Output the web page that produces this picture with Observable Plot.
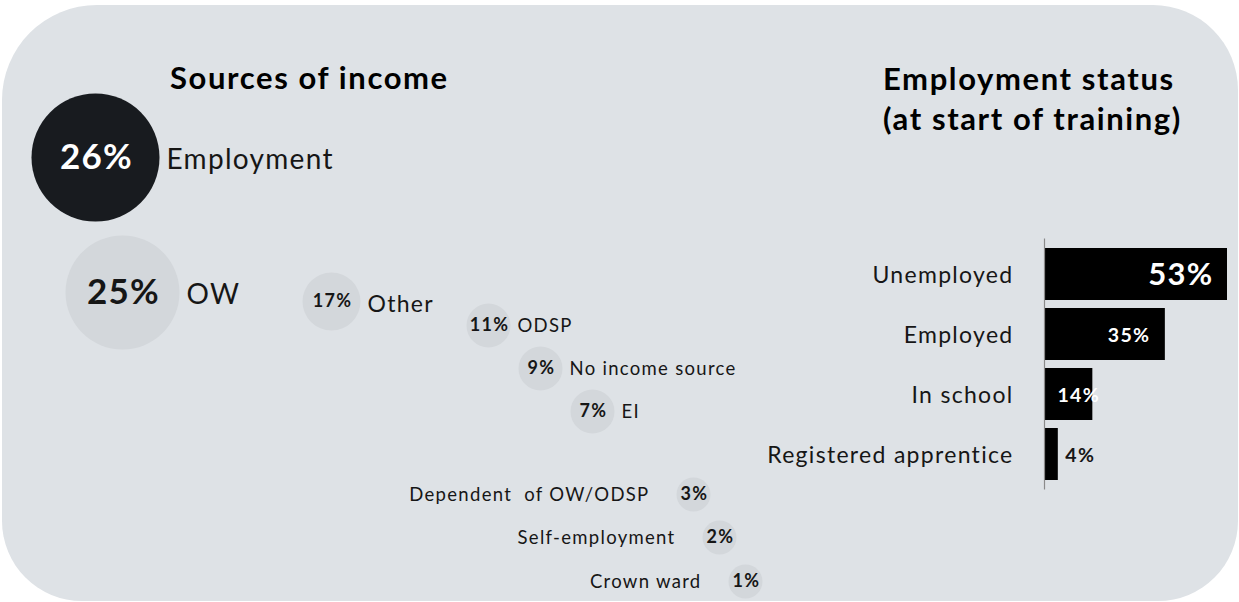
<!DOCTYPE html>
<html>
<head>
<meta charset="utf-8">
<script src="https://cdn.jsdelivr.net/npm/d3@7"></script>
<script src="https://cdn.jsdelivr.net/npm/@observablehq/plot@0.6"></script>
<style>
html, body { margin: 0; padding: 0; background: #ffffff; }
#frame { position: relative; width: 1239px; height: 602px; overflow: hidden; font-family: Lato, "Open Sans", sans-serif; }
#bg { position: absolute; left: 2px; top: 5px; width: 1236px; height: 596px; background: #dee2e6; border-radius: 95px 85px 80px 80px; }
.title { position: absolute; font-weight: 700; font-size: 31px; color: #000; line-height: 40px; white-space: nowrap; letter-spacing: 1.6px; }
#t1 { left: 170px; top: 57px; }
#t2 { left: 883px; top: 58px; }
.layer { position: absolute; left: 0; top: 0; }
#bubbles text, #bars text { letter-spacing: 1.3px; }
</style>
</head>
<body>
<div id="frame">
  <div id="bg"></div>
  <div class="title" id="t1">Sources of income</div>
  <div class="title" id="t2">Employment status<br>(at start of training)</div>
  <div class="layer" id="bubbles"></div>
  <div class="layer" id="bars"></div>
</div>
<script>
// ---- data ----
const incomeSources = ["Employment", "OW", "Other", "ODSP", "No income source", "EI", "Dependent  of OW/ODSP", "Self-employment", "Crown ward"];
const incomeShares = [26, 25, 17, 11, 9, 7, 3, 2, 1];
const statusCategories = ["Unemployed", "Employed", "In school", "Registered apprentice"];
const statusShares = [53, 35, 14, 4];

// ---- tables built from the data ----
const incomeRows = incomeSources.map((name, i) => ({ name, share: incomeShares[i], rank: i, label: incomeShares[i] + "%" }));
const statusRows = statusCategories.map((name, i) => ({ name, share: statusShares[i], label: statusShares[i] + "%" }));

// ---- layout of the bubble path (rank -> position) ----
const rankDomain = d3.range(incomeSources.length);
const bubbleXRange = [95, 122, 331, 488, 540, 592, 693, 719, 745];
const bubbleYRange = [157, 292, 301, 325, 368, 411, 494, 537, 581];
const rDomain = [1, 3, 7, 11, 17, 25, 26];
const rRange = [17, 17, 22, 22, 29, 57, 64];
const radius = d3.scaleLinear().domain(rDomain).range(rRange);

const font = "Lato, 'Open Sans', sans-serif";
const dark = "#161616";

const labelMarks = incomeRows.map(d => {
  const left = d.rank >= 6;
  const size = d.rank <= 1 ? 28 : d.rank === 2 ? 23 : 18.5;
  const gap = left ? 27 : 7;
  return Plot.text([d], {
    x: "rank", y: "rank", text: "name",
    textAnchor: left ? "end" : "start",
    dx: (left ? -1 : 1) * (radius(d.share) + gap),
    dy: d.rank <= 2 ? 3 : 1,
    fontSize: size, fill: dark
  });
});

const bubbles = Plot.plot({
  width: 1239, height: 602,
  style: { background: "none", fontFamily: font, overflow: "visible" },
  x: { type: "linear", domain: rankDomain, range: bubbleXRange, axis: null },
  y: { type: "linear", domain: rankDomain, range: bubbleYRange, axis: null },
  r: { type: "linear", domain: rDomain, range: rRange },
  color: { type: "identity" },
  marks: [
    Plot.dot(incomeRows, { x: "rank", y: "rank", r: "share", fill: d => d.rank === 0 ? "#181b1f" : "#d3d7db", stroke: "none" }),
    Plot.text(incomeRows, {
      x: "rank", y: "rank", text: "label",
      fontWeight: "bold",
      dx: 1,
      fontSize: d => d.share >= 25 ? 35 : 18,
      fill: d => d.rank === 0 ? "#ffffff" : dark
    }),
    ...labelMarks
  ]
});
document.getElementById("bubbles").appendChild(bubbles);

const valueMarks = statusRows.map(d => {
  let opts;
  if (d.share >= 30) opts = { x: "share", textAnchor: "end", dx: d.share > 50 ? -14 : -15, fill: "#ffffff", fontSize: d.share > 50 ? 31 : 19.5 };
  else if (d.share >= 10) opts = { x: () => 0, textAnchor: "start", dx: 13, fill: "#ffffff", fontSize: 19.5 };
  else opts = { x: "share", textAnchor: "start", dx: 7, fill: dark, fontSize: 19.5 };
  return Plot.text([d], { y: "name", text: "label", fontWeight: "bold", dy: 1, ...opts });
});

const bars = Plot.plot({
  width: 1239, height: 602,
  marginLeft: 1044, marginRight: 12, marginTop: 238.5, marginBottom: 112.5,
  style: { background: "none", fontFamily: font, overflow: "visible" },
  x: { domain: [0, 53], axis: null },
  y: { domain: statusCategories, padding: 0.14, axis: null },
  marks: [
    Plot.barX(statusRows, { x: "share", y: "name", fill: "#000000" }),
    Plot.ruleX([0], { stroke: "#8a8a8a", strokeWidth: 1.2 }),
    Plot.text(statusRows, { x: () => 0, y: "name", text: "name", textAnchor: "end", dx: -31, dy: 1, fontSize: 23, fill: dark }),
    ...valueMarks
  ]
});
document.getElementById("bars").appendChild(bars);
</script>
</body>
</html>
